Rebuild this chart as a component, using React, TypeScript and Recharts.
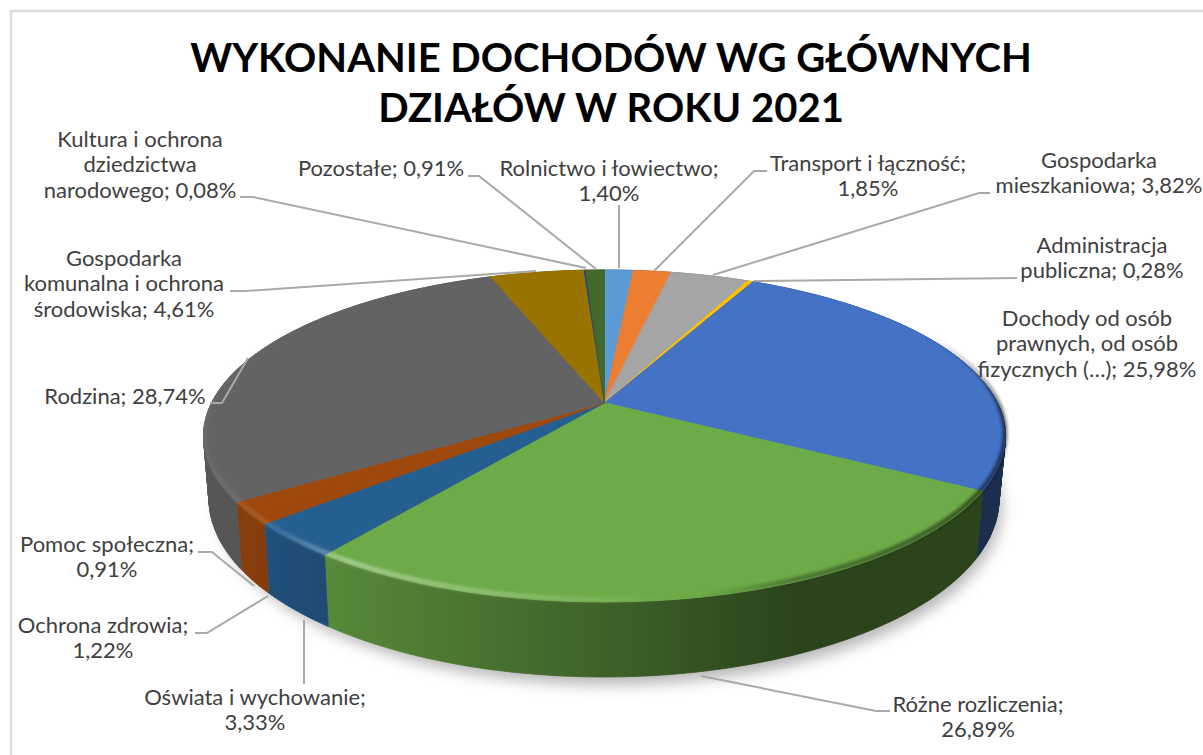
import React from "react";
import { PieChart, Pie } from "recharts";

const categories = [
  "Rolnictwo i łowiectwo",
  "Transport i łączność",
  "Gospodarka mieszkaniowa",
  "Administracja publiczna",
  "Dochody od osób prawnych, od osób fizycznych (…)",
  "Różne rozliczenia",
  "Oświata i wychowanie",
  "Ochrona zdrowia",
  "Pomoc społeczna",
  "Rodzina",
  "Gospodarka komunalna i ochrona środowiska",
  "Kultura i ochrona dziedzictwa narodowego",
  "Pozostałe",
];
const values = [1.4, 1.85, 3.82, 0.28, 25.98, 26.89, 3.33, 1.22, 0.91, 28.74, 4.61, 0.08, 0.91];
const colors = [
  "#5b9bd5", "#ed7d31", "#a5a5a5", "#ffc000", "#4472c4", "#6cab47", "#255e91",
  "#9e480e", "#9e480e", "#636363", "#997300", "#264478", "#43682b",
];
const labelLines = [
  ["Rolnictwo i łowiectwo;", "1,40%"],
  ["Transport i łączność;", "1,85%"],
  ["Gospodarka", "mieszkaniowa; 3,82%"],
  ["Administracja", "publiczna; 0,28%"],
  ["Dochody od osób", "prawnych, od osób", "fizycznych (…); 25,98%"],
  ["Różne rozliczenia;", "26,89%"],
  ["Oświata i wychowanie;", "3,33%"],
  ["Ochrona zdrowia;", "1,22%"],
  ["Pomoc społeczna;", "0,91%"],
  ["Rodzina; 28,74%"],
  ["Gospodarka", "komunalna i ochrona", "środowiska; 4,61%"],
  ["Kultura i ochrona", "dziedzictwa", "narodowego; 0,08%"],
  ["Pozostałe; 0,91%"],
];
const titleLines = ["WYKONANIE DOCHODÓW WG GŁÓWNYCH", "DZIAŁÓW W ROKU 2021"];

const data = categories.map((name, i) => ({ name, value: values[i], fill: colors[i] }));

// label centre x and first baseline y, per slice
const labelAnchors = [
  [609, 176], [868, 171], [1099, 168], [1102, 253], [1087, 326], [978, 712], [255, 705],
  [103, 633], [107, 552], [125, 404], [124, 266], [140, 147], [381, 176],
];
// leader line routing, per slice
const leaders = [
  "619,205 619,268",
  "767,171 754,171 654,271",
  "990,193 979,193 713,275",
  "1017,278 754,281",
  "",
  "890,711 876,711 701,676",
  "304,684 304,620",
  "195,633 207,633 268,596",
  "198,552 212,552 254,586",
  "210,403 222,403 248,358",
  "230,291 245,291 536,271",
  "240,197 253,197 586,268",
  "468,176 479,176 596,269",
];

const CX = 604.5;
const CY = 436;
const RX = 401;
const RY = 166;
const PERSPECTIVE = 0.2;
const BOTTOM_CX = 604;
const BOTTOM_CY = 499;
const BOTTOM_RX = 395;
const BOTTOM_RY = 178;

// darkness of the side wall along the chart width: [offset, black amount]
const wallStops = [
  [0, 0.12],
  [0.16, 0.2],
  [0.5, 0.43],
  [0.74, 0.6],
  [1, 0.6],
];

const darken = (hex: string, k: number) => {
  const n = parseInt(hex.slice(1), 16);
  const c = [(n >> 16) & 255, (n >> 8) & 255, n & 255].map((v) => Math.round(v * (1 - k)));
  return `rgb(${c[0]},${c[1]},${c[2]})`;
};

// clockwise degrees from the top of the disc -> unit-ellipse coords with perspective
const toDisc = (deg: number) => {
  const a = (deg * Math.PI) / 180;
  const X = Math.sin(a);
  const Y = Math.cos(a);
  const d = 1 + PERSPECTIVE * Y;
  return { u: (X * Math.sqrt(1 - PERSPECTIVE * PERSPECTIVE)) / d, v: (Y + PERSPECTIVE) / d };
};
const topPt = (deg: number) => {
  const { u, v } = toDisc(deg);
  return [CX + RX * u, CY - RY * v];
};
const botPt = (deg: number) => {
  const { u, v } = toDisc(deg);
  return [BOTTOM_CX + BOTTOM_RX * u, BOTTOM_CY - BOTTOM_RY * v];
};
const bevelPt = (deg: number) => {
  const { u, v } = toDisc(deg);
  return [CX + (RX - 0.5) * u, CY - RY * v - 2.5];
};
const sweep = (a0: number, a1: number) => {
  const out: number[] = [];
  const n = Math.max(2, Math.ceil((a1 - a0) / 0.75));
  for (let i = 0; i <= n; i++) out.push(a0 + ((a1 - a0) * i) / n);
  return out;
};
const pathOf = (pts: number[][], close = false) =>
  pts.map((p, i) => `${i ? "L" : "M"}${p[0].toFixed(2)} ${p[1].toFixed(2)}`).join(" ") + (close ? " Z" : "");
const signedArea = (pts: number[][]) =>
  pts.reduce((acc, p, i) => {
    const q = pts[(i + 1) % pts.length];
    return acc + p[0] * q[1] - q[0] * p[1];
  }, 0);

const WallShape = (props: any) => {
  const a0 = 90 - props.startAngle;
  const a1 = 90 - props.endAngle;
  const s = sweep(a0, a1);
  const quads: string[] = [];
  for (let i = 0; i < s.length - 1; i++) {
    const q = [topPt(s[i]), topPt(s[i + 1]), botPt(s[i + 1]), botPt(s[i])];
    quads.push(pathOf(signedArea(q) < 0 ? q.reverse() : q, true));
  }
  const id = `wall${props.index}`;
  return (
    <g>
      <linearGradient id={id} gradientUnits="userSpaceOnUse" x1={203} x2={1006} y1={0} y2={0}>
        {wallStops.map(([o, k]) => (
          <stop key={o} offset={o} stopColor={darken(props.fill, k)} />
        ))}
      </linearGradient>
      <path d={quads.join(" ")} fill={`url(#${id})`} stroke={`url(#${id})`} strokeWidth={0.8} />
    </g>
  );
};

const TopShape = (props: any) => {
  const a0 = 90 - props.startAngle;
  const a1 = 90 - props.endAngle;
  const s = sweep(a0, a1);
  const d = pathOf([[CX, CY - RY * PERSPECTIVE], ...s.map((a) => topPt(a))], true);
  return <path d={d} fill={props.fill} stroke={props.fill} strokeWidth={0.9} />;
};

// soft bevel along the rim, fading out towards the back of the disc
const RimShape = (props: any) => {
  const a0 = 90 - props.startAngle;
  const a1 = 90 - props.endAngle;
  const s = sweep(a0, a1);
  const segs: React.ReactNode[] = [];
  for (let i = 0; i < s.length - 1; i++) {
    const v = toDisc(s[i]).v;
    const o = Math.min(1, Math.max(0, (0.6 - v) / 0.45));
    if (o <= 0) continue;
    segs.push(
      <path
        key={i}
        d={pathOf([bevelPt(s[i]), bevelPt(s[i + 1])])}
        fill="none"
        stroke="url(#rimShade)"
        strokeWidth={5}
        strokeOpacity={o}
      />
    );
  }
  return <g filter="url(#soft)">{segs}</g>;
};

const renderLabel = (props: any) => {
  const i = props.index;
  const [x, y] = labelAnchors[i];
  return (
    <text key={i} textAnchor="middle" fontFamily="Lato, 'Open Sans', sans-serif" fontSize={22} fill="#404040">
      {labelLines[i].map((line, j) => (
        <tspan key={j} x={x} y={y + j * 25.3}>
          {line}
        </tspan>
      ))}
    </text>
  );
};
const renderLeader = (props: any) => {
  const pts = leaders[props.index];
  if (!pts) return <g key={props.index} />;
  return <polyline key={props.index} points={pts} fill="none" stroke="#a9a9a9" strokeWidth={2} />;
};

export default function App() {
  return (
    <div style={{ position: "absolute", left: 0, top: 0, width: 1203, height: 755, background: "#fff" }}>
      <PieChart width={1203} height={755} margin={{ top: 0, right: 0, bottom: 0, left: 0 }}>
        <defs>
          <linearGradient id="rimShade" gradientUnits="userSpaceOnUse" x1={203} x2={1006} y1={0} y2={0}>
            <stop offset="0" stopColor="#fff" stopOpacity={0.04} />
            <stop offset="0.1" stopColor="#fff" stopOpacity={0.12} />
            <stop offset="0.18" stopColor="#fff" stopOpacity={0.38} />
            <stop offset="0.37" stopColor="#fff" stopOpacity={0.22} />
            <stop offset="0.56" stopColor="#fff" stopOpacity={0.03} />
            <stop offset="0.62" stopColor="#000" stopOpacity={0} />
            <stop offset="0.74" stopColor="#000" stopOpacity={0.3} />
            <stop offset="1" stopColor="#000" stopOpacity={0.55} />
          </linearGradient>
          <filter id="soft" x="-20%" y="-20%" width="140%" height="140%">
            <feGaussianBlur stdDeviation={1.6} />
          </filter>
          <filter id="shadow" x="-10%" y="-20%" width="120%" height="140%">
            <feGaussianBlur stdDeviation={7} />
          </filter>
        </defs>
        <polyline points="11,755 11,11 1203,11" fill="none" stroke="#dcdcdc" strokeWidth={2.5} />
        <ellipse cx={610} cy={507} rx={392} ry={178} fill="#000" fillOpacity={0.28} filter="url(#shadow)" />
        <text textAnchor="middle" fontFamily="Lato, 'Open Sans', sans-serif" fontWeight={700} fontSize={40} fill="#000">
          {titleLines.map((line, j) => (
            <tspan key={j} x={611} y={72 + j * 50}>
              {line}
            </tspan>
          ))}
        </text>
        <Pie
          data={data}
          dataKey="value"
          nameKey="name"
          cx={CX}
          cy={CY}
          outerRadius={RX}
          startAngle={90}
          endAngle={-270}
          isAnimationActive={false}
          shape={WallShape}
          label={false}
          labelLine={false}
        />
        <Pie
          data={data}
          dataKey="value"
          nameKey="name"
          cx={CX}
          cy={CY}
          outerRadius={RX}
          startAngle={90}
          endAngle={-270}
          isAnimationActive={false}
          shape={TopShape}
          label={false}
          labelLine={false}
        />
        <Pie
          data={data}
          dataKey="value"
          nameKey="name"
          cx={CX}
          cy={CY}
          outerRadius={RX}
          startAngle={90}
          endAngle={-270}
          isAnimationActive={false}
          shape={RimShape}
          label={renderLabel}
          labelLine={renderLeader}
        />
      </PieChart>
    </div>
  );
}
